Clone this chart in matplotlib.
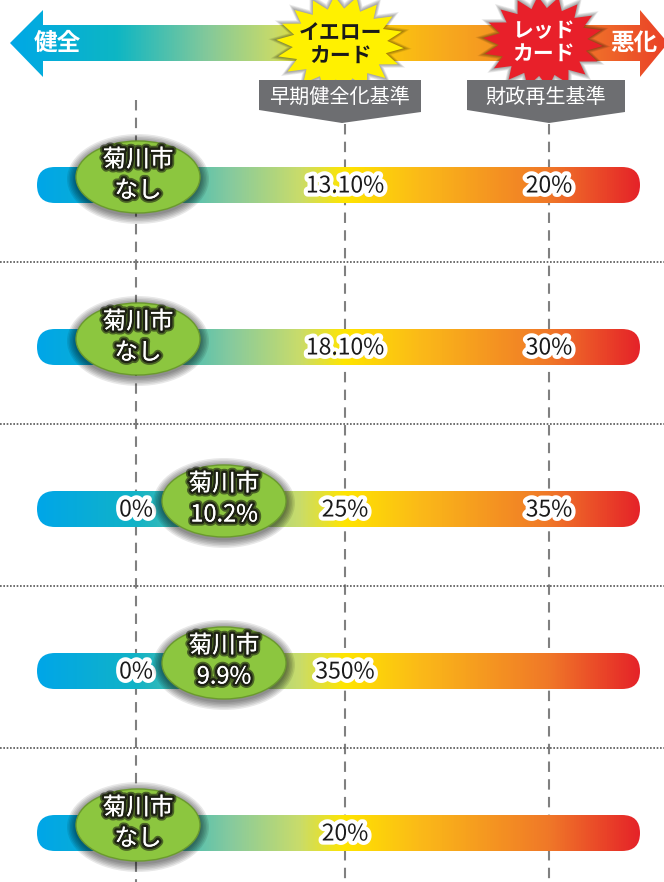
import numpy as np
import matplotlib
matplotlib.use("Agg")
import matplotlib.pyplot as plt
import matplotlib.patheffects as pe
from matplotlib.colors import LinearSegmentedColormap
from matplotlib.patches import Polygon, Ellipse, FancyBboxPatch

plt.rcParams["font.family"] = ["Noto Sans CJK JP", "DejaVu Sans"]

# --- data ---
city_name = "菊川市"
city_values = ["なし", "なし", "10.2%", "9.9%", "なし"]
zero_labels = ["", "", "0%", "0%", ""]
early_labels = ["13.10%", "18.10%", "25%", "350%", "20%"]
rebuild_labels = ["20%", "30%", "35%", "", ""]
guide_names = ["早期健全化基準", "財政再生基準"]
card_names = ["イエロー\nカード", "レッド\nカード"]
end_names = ["健全", "悪化"]

# --- layout (pixel units) ---
W, H = 664, 882
guide_x = [136, 345, 549]
row_y = [185 + 162 * i for i in range(len(early_labels))]
bar_x0, bar_x1, bar_h = 37, 640, 36

bar_cmap = LinearSegmentedColormap.from_list("bar", [
    (0.00, "#00A6E8"), (0.164, "#12B3C6"), (0.32, "#86CA9E"),
    (0.436, "#C9DC6A"), (0.51, "#FFE500"), (0.635, "#FBBA18"),
    (0.85, "#F07828"), (1.00, "#E52329")])
top_cmap = LinearSegmentedColormap.from_list("top", [
    (0.00, "#00A8E6"), (0.16, "#0DB6C4"), (0.30, "#84C99A"),
    (0.40, "#C6DA6A"), (0.486, "#FFE000"), (0.668, "#F7A81E"),
    (0.90, "#EF6A2A"), (1.00, "#EA4027")])

fig = plt.figure(figsize=(W / 100, H / 100), dpi=100)
ax = fig.add_axes([0, 0, 1, 1])
ax.set_xlim(0, W)
ax.set_ylim(H, 0)
ax.axis("off")

grad = np.linspace(0, 1, 512).reshape(1, -1)

# top arrow
ax_l, ax_r = 10, 668
arrow = Polygon([(ax_l, 43), (43, 10), (43, 25), (640, 25), (640, 10),
                 (ax_r, 43), (640, 77), (640, 61), (43, 61), (43, 77)],
                closed=True, facecolor="none", edgecolor="none")
ax.add_patch(arrow)
im = ax.imshow(grad, extent=[ax_l, ax_r, 77, 10], cmap=top_cmap, aspect="auto", zorder=1)
im.set_clip_path(arrow)
ax.text(57, 43, end_names[0], color="white", fontsize=17, fontweight="bold",
        ha="center", va="center", zorder=5)
ax.text(634, 43, end_names[1], color="white", fontsize=17, fontweight="bold",
        ha="center", va="center", zorder=5)


def star(cx, cy, rx, ry, n=18, inner=0.74):
    t = np.linspace(0, 2 * np.pi, 2 * n, endpoint=False) + np.pi / (2 * n)
    r = np.where(np.arange(2 * n) % 2 == 0, 1.0, inner)
    return np.column_stack([cx + rx * r * np.cos(t), cy + ry * r * np.sin(t)])


stars = [(340, 44, 64, 48, "#FFF100", "#1A1A1A"), (543, 42, 60, 46, "#E8202A", "white")]
for (cx, cy, rx, ry, fc, tc), name in zip(stars, card_names):
    for k in range(5, 0, -1):
        ax.add_patch(Polygon(star(cx, cy, rx + k * 1.6, ry + k * 1.6), closed=True,
                             facecolor="black", alpha=0.08, edgecolor="none", zorder=2))
    ax.add_patch(Polygon(star(cx, cy, rx, ry), closed=True, facecolor=fc,
                         edgecolor="none", zorder=3))
    ax.text(cx + 1, cy, name, color=tc, fontsize=15, fontweight="bold", ha="center",
            va="center", linespacing=1.1, zorder=4)

# gray guide labels
tags = [(259, 421, 342), (467, 625, 549)]
for (x0, x1, cx), name in zip(tags, guide_names):
    ax.add_patch(Polygon([(x0, 80), (x1, 80), (x1, 112), (cx, 123), (x0, 110)],
                         closed=True, facecolor="#6D6E71", edgecolor="none", zorder=4))
    ax.text((x0 + x1) / 2, 97, name, color="white", fontsize=14.5, ha="center",
            va="center", zorder=5)

# dashed guides
ax.vlines(guide_x[0], 100, H, color="#808080", lw=1.5, linestyles=(0, (5, 3.5)), zorder=1)
ax.vlines(guide_x[1:], 124, H, color="#808080", lw=1.5, linestyles=(0, (5, 3.5)), zorder=1)

# separators
for y in row_y[:-1]:
    ax.axhline(y + 77, color="#555555", lw=1.2, linestyle=(0, (1, 1)), zorder=1)

glow = [pe.withStroke(linewidth=6, foreground="white")]
dark_glow = [pe.withStroke(linewidth=6, foreground="#1E2214", alpha=0.6),
             pe.withStroke(linewidth=3.5, foreground="#1E2214"), pe.Normal()]

for i, y in enumerate(row_y):
    box = FancyBboxPatch((bar_x0, y - bar_h / 2), bar_x1 - bar_x0, bar_h,
                         boxstyle="round,pad=0,rounding_size=18",
                         facecolor="none", edgecolor="none")
    ax.add_patch(box)
    im = ax.imshow(grad, extent=[bar_x0, bar_x1, y + bar_h / 2, y - bar_h / 2],
                   cmap=bar_cmap, aspect="auto", zorder=2)
    im.set_clip_path(box)

    for x, lab in zip(guide_x, [zero_labels[i], early_labels[i], rebuild_labels[i]]):
        if lab:
            ax.text(x, y + 1, lab, fontsize=16.5, color="#1A1A1A", ha="center",
                    va="center", path_effects=glow, zorder=6)

    cx = 138 if city_values[i] == "なし" else 224
    cy = y - 8
    for k in range(6, 0, -1):
        ax.add_patch(Ellipse((cx, cy + 2), 124 + k * 3, 72 + k * 3, facecolor="black",
                             alpha=0.09, edgecolor="none", zorder=7))
    ax.add_patch(Ellipse((cx, cy), 124, 72, facecolor="#8CC63F", edgecolor="#6B9A2E",
                         lw=1, zorder=8))
    ax.text(cx, cy - 17, city_name, color="white", fontsize=17, ha="center",
            va="center", path_effects=dark_glow, zorder=9)
    ax.text(cx, cy + 14, city_values[i], color="white", fontsize=17, ha="center",
            va="center", path_effects=dark_glow, zorder=9)

fig.savefig("out.png", dpi=100)
